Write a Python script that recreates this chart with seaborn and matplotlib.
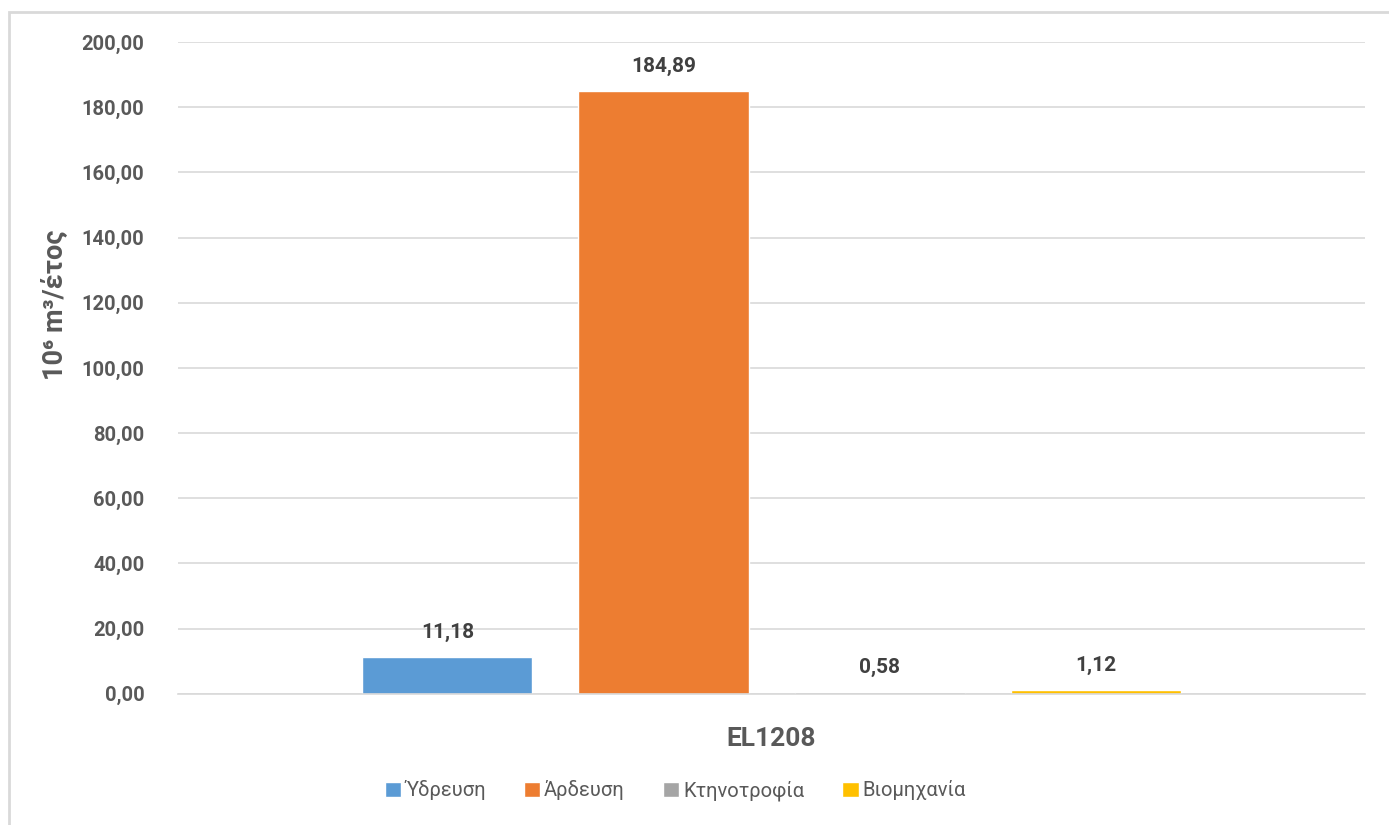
import pandas as pd
import matplotlib.pyplot as plt
from matplotlib.patches import Rectangle
import seaborn as sns

# data
region = ["EL1208"]
uses = ["Ύδρευση", "Άρδευση", "Κτηνοτροφία", "Βιομηχανία"]
values = [11.18, 184.89, 0.58, 1.12]
colors = ["#5B9BD5", "#ED7D31", "#A5A5A5", "#FFC000"]
yticks = [0, 20, 40, 60, 80, 100, 120, 140, 160, 180, 200]

df = pd.DataFrame({"region": region * len(uses), "use": uses, "value": values})

sns.set_style("white")
plt.rcParams['font.family'] = ['Roboto', 'DejaVu Sans']

fig = plt.figure(figsize=(13.89, 8.25), dpi=100)
ax = fig.add_axes([0.128, 0.159, 0.855, 0.79])

sns.barplot(data=df, x="region", y="value", hue="use", palette=colors,
            width=0.728, gap=0.213, saturation=1, ax=ax, legend=True)

ax.set_ylim(0, 200)
ax.set_xlim(-0.5, 0.5)
ax.set_yticks(yticks)
ax.set_yticklabels([f"{v:.2f}".replace(".", ",") for v in yticks],
                   fontsize=14.5, fontweight="bold", color="#595959")
ax.tick_params(axis="x", labelsize=19, labelcolor="#595959", length=0, pad=24)
for t in ax.get_xticklabels():
    t.set_fontweight("bold")
ax.tick_params(axis="y", length=0, pad=24)
ax.yaxis.grid(True, color="#D9D9D9", linewidth=1.2)
ax.set_axisbelow(True)
for s in ["top", "right", "left"]:
    ax.spines[s].set_visible(False)
ax.spines["bottom"].set_color("#D9D9D9")
ax.spines["bottom"].set_linewidth(1.2)

ax.set_xlabel("")
ax.set_ylabel("10⁶ m³/έτος", fontsize=19.5, fontweight="bold", color="#595959")
ax.yaxis.set_label_coords(-0.092, 0.597)

for cont in ax.containers:
    ax.bar_label(cont, labels=[f"{v:.2f}".replace(".", ",") for v in cont.datavalues],
                 padding=11, fontsize=15, fontweight="bold", color="#404040")

ax.legend(loc="upper center", bbox_to_anchor=(0.419, -0.105), ncol=4, frameon=False,
          fontsize=14.5, labelcolor="#595959", handlelength=0.8, handleheight=0.8,
          handletextpad=0.2, columnspacing=1.9)

fig.patches.append(Rectangle((9 / 1389, -0.1), 1.2, 1 - 12 / 825 + 0.1,
                             transform=fig.transFigure, fill=False,
                             edgecolor="#D9D9D9", linewidth=2))

plt.savefig("out.png", dpi=100)
plt.close()
